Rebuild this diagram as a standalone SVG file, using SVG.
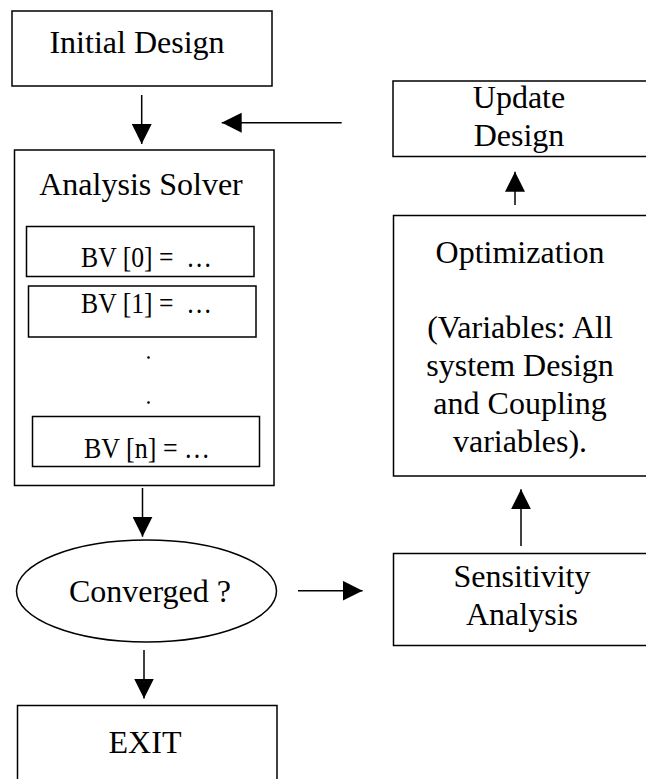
<svg xmlns="http://www.w3.org/2000/svg" width="646" height="779" viewBox="0 0 646 779">
  <style>
    .box { fill: #ffffff; stroke: #000000; stroke-width: 1.5; }
    .lbl { font-family: "Liberation Serif", "Times New Roman", serif; font-size: 32px; fill: #000000; text-anchor: middle; }
    .bv { font-family: "Liberation Serif", "Times New Roman", serif; font-size: 29px; fill: #000000; white-space: pre; }
    .wire { fill: none; stroke: #000000; stroke-width: 1.5; marker-end: url(#ah); }
  </style>
  <defs>
    <marker id="ah" viewBox="0 0 20 20" refX="20" refY="10" markerWidth="20" markerHeight="20" markerUnits="userSpaceOnUse" orient="auto">
      <path d="M0,0 L20,10 L0,20 Z" fill="#000000"/>
    </marker>
  </defs>
  <rect width="646" height="779" fill="#ffffff"/>

  <g id="initial-design">
    <rect class="box" x="12" y="11" width="260" height="75"/>
    <text class="lbl" x="137" y="53">Initial Design</text>
  </g>

  <g id="analysis-solver">
    <rect class="box" x="14.5" y="150" width="259.5" height="335.5"/>
    <text class="lbl" x="141" y="195">Analysis Solver</text>
    <g id="bv0">
      <rect class="box" x="26.5" y="226.5" width="227.5" height="50"/>
      <text class="bv" x="81" y="267" textLength="131" lengthAdjust="spacingAndGlyphs">BV [0] =  …</text>
    </g>
    <g id="bv1">
      <rect class="box" x="28.5" y="286" width="227.5" height="51"/>
      <text class="bv" x="81" y="313" textLength="131" lengthAdjust="spacingAndGlyphs">BV [1] =  …</text>
    </g>
    <circle cx="148.5" cy="357.5" r="1.3" fill="#000000"/>
    <circle cx="148.5" cy="402.5" r="1.3" fill="#000000"/>
    <g id="bvn">
      <rect class="box" x="32.5" y="416.5" width="227" height="50"/>
      <text class="bv" x="84" y="458" textLength="126" lengthAdjust="spacingAndGlyphs">BV [n] = …</text>
    </g>
  </g>

  <g id="converged">
    <ellipse class="box" cx="146.5" cy="591" rx="130" ry="51"/>
    <text class="lbl" x="150" y="602">Converged ?</text>
  </g>

  <g id="exit">
    <rect class="box" x="17.5" y="705.5" width="259.5" height="90"/>
    <text class="lbl" x="145" y="752.5">EXIT</text>
  </g>

  <g id="update-design">
    <rect class="box" x="393" y="81" width="256" height="75.5"/>
    <text class="lbl" x="519" y="108">Update</text>
    <text class="lbl" x="519" y="146">Design</text>
  </g>

  <g id="optimization">
    <rect class="box" x="393.5" y="215.5" width="256" height="260.5"/>
    <text class="lbl" x="520" y="263">Optimization</text>
    <text class="lbl" x="520" y="338">(Variables: All</text>
    <text class="lbl" x="520" y="376">system Design</text>
    <text class="lbl" x="520" y="414">and Coupling</text>
    <text class="lbl" x="520" y="452">variables).</text>
  </g>

  <g id="sensitivity-analysis">
    <rect class="box" x="393.5" y="553.5" width="256" height="92"/>
    <text class="lbl" x="522" y="587">Sensitivity</text>
    <text class="lbl" x="522" y="625">Analysis</text>
  </g>

  <g id="connectors">
    <path class="wire" d="M141.7,95 V144"/>
    <path class="wire" d="M341.7,122.7 H221.7"/>
    <path class="wire" d="M515,205 V171.7"/>
    <path class="wire" d="M142.5,488 V536.7"/>
    <path class="wire" d="M298,590.7 H362.6"/>
    <path class="wire" d="M521,546 V489.3"/>
    <path class="wire" d="M144,650 V698.5"/>
  </g>
</svg>
